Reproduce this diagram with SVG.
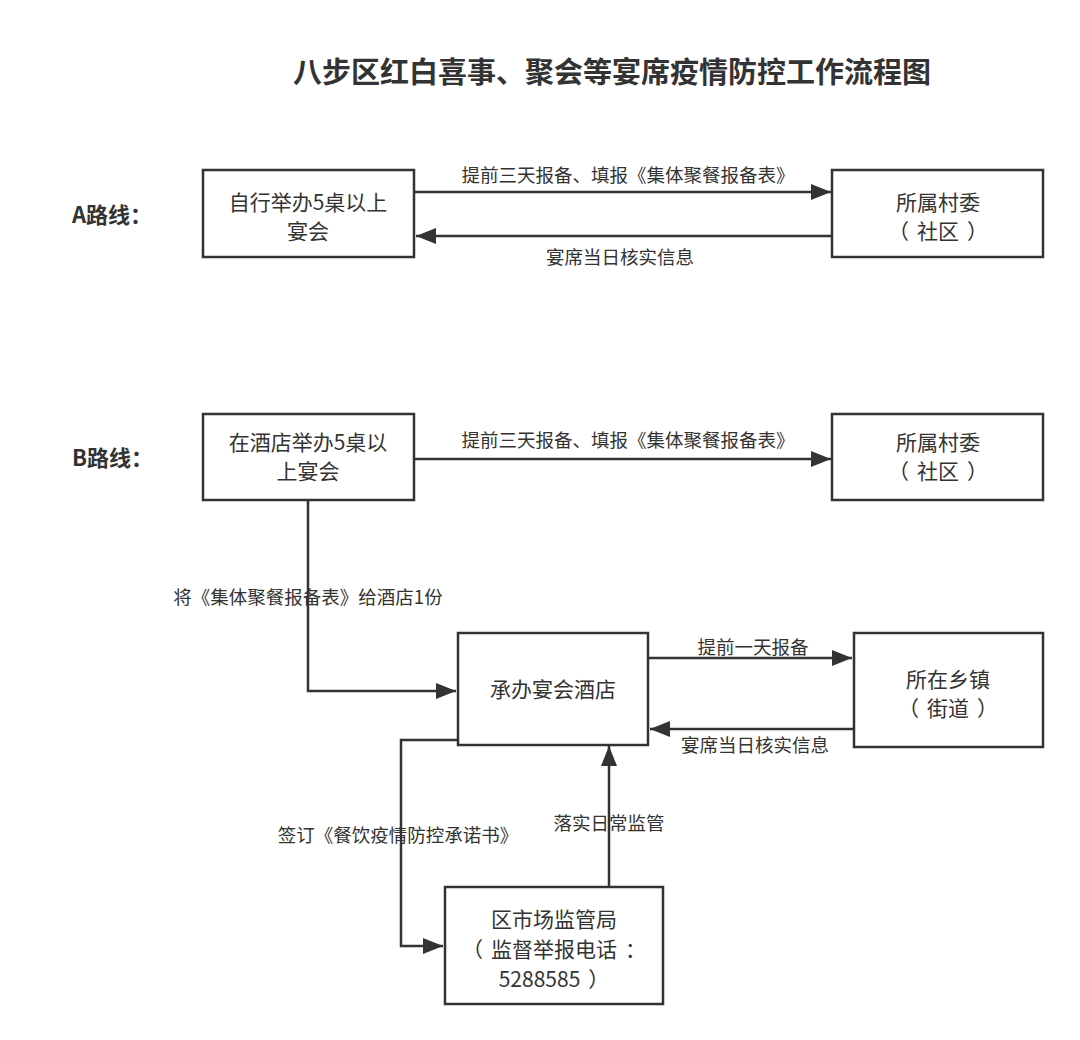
<svg xmlns="http://www.w3.org/2000/svg" width="1080" height="1040" viewBox="0 0 1080 1040">
<style>
text{font-family:"Noto Sans CJK SC","Noto Sans",sans-serif;fill:#333}
.title{font-size:29px;font-weight:bold}
.route{font-size:22px;font-weight:bold}
.box{fill:#fff;stroke:#333;stroke-width:2.5}
.nt{font-size:21px;text-anchor:middle}
.lb{font-size:18.5px;text-anchor:middle}
.edge{fill:none;stroke:#333;stroke-width:2.5}
</style>
<defs>
<marker id="arr" markerUnits="userSpaceOnUse" markerWidth="22" markerHeight="16" refX="20" refY="8" orient="auto">
<path d="M0,0 L20,8 L0,16 Z" fill="#333"/>
</marker>
</defs>
<rect width="1080" height="1040" fill="#fff"/>
<text class="title" x="612" y="83" text-anchor="middle">八步区红白喜事、聚会等宴席疫情防控工作流程图</text>
<text class="route" x="72" y="223">A路线：</text>
<text class="route" x="72" y="466">B路线：</text>

<g id="edges">
<path class="edge" d="M414,192 L831,192" marker-end="url(#arr)"/>
<path class="edge" d="M832,236 L416,236" marker-end="url(#arr)"/>
<path class="edge" d="M414,459 L831,459" marker-end="url(#arr)"/>
<path class="edge" d="M308,500 L308,691 L456,691" marker-end="url(#arr)"/>
<path class="edge" d="M648,658 L852,658" marker-end="url(#arr)"/>
<path class="edge" d="M854,729 L650,729" marker-end="url(#arr)"/>
<path class="edge" d="M458,740 L401,740 L401,946 L443,946" marker-end="url(#arr)"/>
<path class="edge" d="M609,887 L609,746" marker-end="url(#arr)"/>
<text class="lb" x="628" y="182">提前三天报备、填报《集体聚餐报备表》</text>
<text class="lb" x="620" y="264">宴席当日核实信息</text>
<text class="lb" x="628" y="447">提前三天报备、填报《集体聚餐报备表》</text>
<text class="lb" x="308" y="604">将《集体聚餐报备表》给酒店1份</text>
<text class="lb" x="753" y="654">提前一天报备</text>
<text class="lb" x="755" y="752">宴席当日核实信息</text>
<text class="lb" x="398" y="842">签订《餐饮疫情防控承诺书》</text>
<text class="lb" x="609" y="830">落实日常监管</text>
</g>

<g id="a1">
<rect class="box" x="203" y="170" width="211" height="87"/>
<text class="nt" x="308" y="210">自行举办5桌以上</text>
<text class="nt" x="308" y="239">宴会</text>
</g>
<g id="a2">
<rect class="box" x="832" y="170" width="211" height="87"/>
<text class="nt" x="938" y="210">所属村委</text>
<text class="nt" x="938" y="239">（<tspan dx="8">社区</tspan><tspan dx="8">）</tspan></text>
</g>
<g id="b1">
<rect class="box" x="203" y="414" width="211" height="86"/>
<text class="nt" x="308" y="450">在酒店举办5桌以</text>
<text class="nt" x="308" y="479">上宴会</text>
</g>
<g id="b2">
<rect class="box" x="832" y="414" width="211" height="86"/>
<text class="nt" x="938" y="450">所属村委</text>
<text class="nt" x="938" y="479">（<tspan dx="8">社区</tspan><tspan dx="8">）</tspan></text>
</g>
<g id="hotel">
<rect class="box" x="458" y="633" width="190" height="112"/>
<text class="nt" x="553" y="697">承办宴会酒店</text>
</g>
<g id="town">
<rect class="box" x="854" y="633" width="189" height="114"/>
<text class="nt" x="948" y="687">所在乡镇</text>
<text class="nt" x="948" y="716">（<tspan dx="8">街道</tspan><tspan dx="8">）</tspan></text>
</g>
<g id="bureau">
<rect class="box" x="445" y="887" width="218" height="117"/>
<text class="nt" x="554" y="927">区市场监管局</text>
<text class="nt" x="554" y="957">（<tspan dx="8">监督举报电话</tspan><tspan dx="8">：</tspan></text>
<text class="nt" x="554" y="987">5288585<tspan dx="8">）</tspan></text>
</g>
</svg>
